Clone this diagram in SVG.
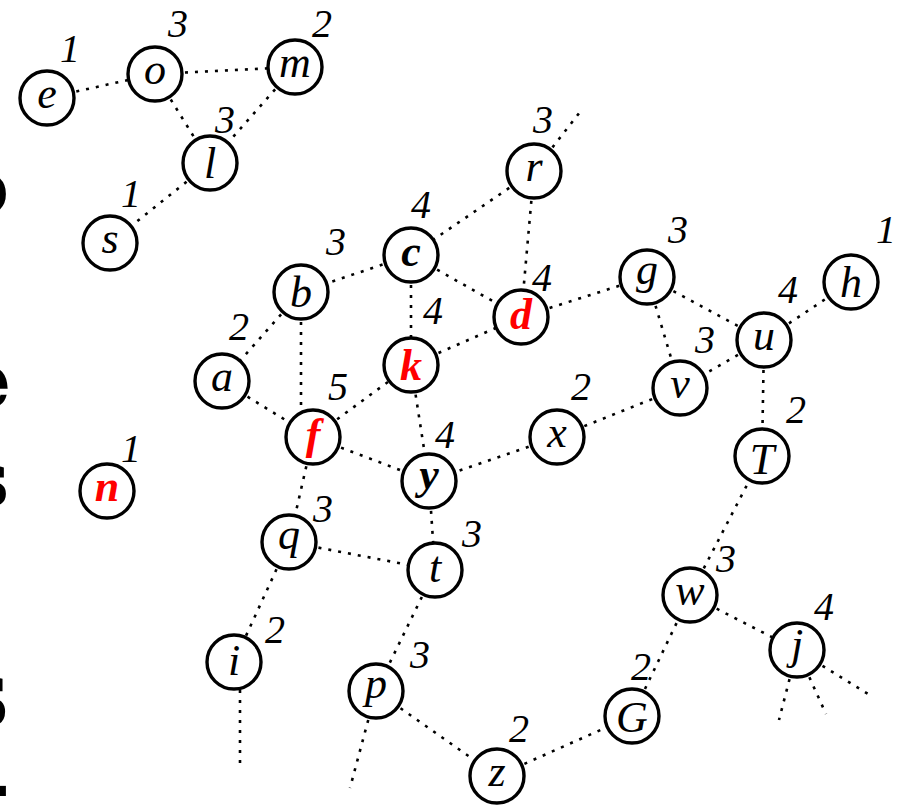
<svg xmlns="http://www.w3.org/2000/svg" width="900" height="807" viewBox="0 0 900 807">
<style>
.bg{fill:#fff}
.e{stroke:#000;stroke-width:2.6;stroke-dasharray:3 7;fill:none}
.nd{fill:#fff;stroke:#000;stroke-width:3.4}
.lb{font-family:'Liberation Serif';font-style:italic;font-size:44px;text-anchor:middle;fill:#000}
.bd{font-weight:bold}
.red{fill:#ff0000}
.dg{font-family:'Liberation Serif';font-style:italic;font-size:40px;fill:#000}
.cut{font-family:'DejaVu Serif';font-weight:bold;font-size:76px;text-anchor:end;fill:#000}
</style>
<rect class="bg" x="0" y="0" width="900" height="807"/>
<g id="cut-text">
<text class="cut" x="9" y="214">o</text>
<text class="cut" x="11" y="407">e</text>
<text class="cut" x="9" y="506">s</text>
<text class="cut" x="9" y="727" style="font-size:96px">s</text>
<text class="cut" x="10" y="812">-</text>
</g>
<g id="connectors">
<line class="e" x1="47" y1="98" x2="155" y2="74"/>
<line class="e" x1="155" y1="74" x2="295" y2="67"/>
<line class="e" x1="155" y1="74" x2="210" y2="163"/>
<line class="e" x1="295" y1="67" x2="210" y2="163"/>
<line class="e" x1="210" y1="163" x2="110" y2="243"/>
<line class="e" x1="534" y1="171" x2="580" y2="112"/>
<line class="e" x1="534" y1="171" x2="411" y2="255"/>
<line class="e" x1="534" y1="171" x2="521" y2="317"/>
<line class="e" x1="411" y1="255" x2="301" y2="292"/>
<line class="e" x1="411" y1="255" x2="521" y2="317"/>
<line class="e" x1="411" y1="255" x2="411" y2="365"/>
<line class="e" x1="301" y1="292" x2="222" y2="381"/>
<line class="e" x1="301" y1="292" x2="301" y2="437"/>
<line class="e" x1="222" y1="381" x2="313" y2="437"/>
<line class="e" x1="313" y1="437" x2="411" y2="365"/>
<line class="e" x1="313" y1="437" x2="429" y2="481"/>
<line class="e" x1="313" y1="437" x2="289" y2="542"/>
<line class="e" x1="411" y1="365" x2="521" y2="317"/>
<line class="e" x1="411" y1="365" x2="429" y2="481"/>
<line class="e" x1="521" y1="317" x2="647" y2="277"/>
<line class="e" x1="647" y1="277" x2="764" y2="340"/>
<line class="e" x1="647" y1="277" x2="680" y2="388"/>
<line class="e" x1="764" y1="340" x2="851" y2="282"/>
<line class="e" x1="764" y1="340" x2="680" y2="388"/>
<line class="e" x1="764" y1="340" x2="762" y2="456"/>
<line class="e" x1="680" y1="388" x2="557" y2="437"/>
<line class="e" x1="557" y1="437" x2="429" y2="481"/>
<line class="e" x1="429" y1="481" x2="435" y2="570"/>
<line class="e" x1="289" y1="542" x2="435" y2="570"/>
<line class="e" x1="289" y1="542" x2="234" y2="662"/>
<line class="e" x1="240" y1="690" x2="240" y2="765"/>
<line class="e" x1="435" y1="570" x2="376" y2="691"/>
<line class="e" x1="376" y1="691" x2="497" y2="776"/>
<line class="e" x1="376" y1="691" x2="350" y2="788"/>
<line class="e" x1="497" y1="776" x2="632" y2="716"/>
<line class="e" x1="632" y1="716" x2="690" y2="595"/>
<line class="e" x1="690" y1="595" x2="762" y2="456"/>
<line class="e" x1="690" y1="595" x2="797" y2="650"/>
<line class="e" x1="797" y1="650" x2="779" y2="720"/>
<line class="e" x1="797" y1="650" x2="826" y2="714"/>
<line class="e" x1="797" y1="650" x2="868" y2="694"/>
</g>
<g id="nodes">
<g id="node-e"><circle class="nd" cx="47" cy="98" r="27"/><text class="lb" x="47" y="108">e</text><text class="dg" x="60" y="62">1</text></g>
<g id="node-o"><circle class="nd" cx="155" cy="74" r="27"/><text class="lb" x="155" y="84">o</text><text class="dg" x="168" y="37">3</text></g>
<g id="node-m"><circle class="nd" cx="295" cy="67" r="27"/><text class="lb" x="295" y="77">m</text><text class="dg" x="312" y="37">2</text></g>
<g id="node-l"><circle class="nd" cx="210" cy="163" r="27"/><text class="lb" x="210" y="178">l</text><text class="dg" x="215" y="133">3</text></g>
<g id="node-s"><circle class="nd" cx="110" cy="243" r="27"/><text class="lb" x="110" y="253">s</text><text class="dg" x="121" y="207">1</text></g>
<g id="node-r"><circle class="nd" cx="534" cy="171" r="27"/><text class="lb" x="534" y="181">r</text><text class="dg" x="533" y="133">3</text></g>
<g id="node-c"><circle class="nd" cx="411" cy="255" r="27"/><text class="lb bd" x="411" y="266">c</text><text class="dg" x="411" y="218">4</text></g>
<g id="node-d"><circle class="nd" cx="521" cy="317" r="27"/><text class="lb bd red" x="521" y="329">d</text><text class="dg" x="532" y="291">4</text></g>
<g id="node-g"><circle class="nd" cx="647" cy="277" r="27"/><text class="lb" x="647" y="284">g</text><text class="dg" x="668" y="243">3</text></g>
<g id="node-h"><circle class="nd" cx="851" cy="282" r="27"/><text class="lb" x="851" y="297">h</text><text class="dg" x="876" y="243">1</text></g>
<g id="node-b"><circle class="nd" cx="301" cy="292" r="27"/><text class="lb" x="301" y="307">b</text><text class="dg" x="326" y="255">3</text></g>
<g id="node-u"><circle class="nd" cx="764" cy="340" r="27"/><text class="lb" x="764" y="350">u</text><text class="dg" x="778" y="303">4</text></g>
<g id="node-a"><circle class="nd" cx="222" cy="381" r="27"/><text class="lb" x="222" y="391">a</text><text class="dg" x="229" y="340">2</text></g>
<g id="node-k"><circle class="nd" cx="411" cy="365" r="27"/><text class="lb bd red" x="411" y="380">k</text><text class="dg" x="423" y="324">4</text></g>
<g id="node-v"><circle class="nd" cx="680" cy="388" r="27"/><text class="lb" x="680" y="398">v</text><text class="dg" x="695" y="353">3</text></g>
<g id="node-f"><circle class="nd" cx="313" cy="437" r="27"/><text class="lb bd red" x="313" y="449">f</text><text class="dg" x="328" y="400">5</text></g>
<g id="node-x"><circle class="nd" cx="557" cy="437" r="27"/><text class="lb" x="557" y="447">x</text><text class="dg" x="571" y="400">2</text></g>
<g id="node-T"><circle class="nd" cx="762" cy="456" r="27"/><text class="lb" x="762" y="474">T</text><text class="dg" x="786" y="423">2</text></g>
<g id="node-y"><circle class="nd" cx="429" cy="481" r="27"/><text class="lb bd" x="429" y="489">y</text><text class="dg" x="435" y="448">4</text></g>
<g id="node-n"><circle class="nd" cx="107" cy="491" r="27"/><text class="lb bd red" x="107" y="501">n</text><text class="dg" x="121" y="462">1</text></g>
<g id="node-q"><circle class="nd" cx="289" cy="542" r="27"/><text class="lb" x="289" y="549">q</text><text class="dg" x="313" y="522">3</text></g>
<g id="node-t"><circle class="nd" cx="435" cy="570" r="27"/><text class="lb" x="435" y="582">t</text><text class="dg" x="462" y="547">3</text></g>
<g id="node-w"><circle class="nd" cx="690" cy="595" r="27"/><text class="lb" x="690" y="605">w</text><text class="dg" x="716" y="572">3</text></g>
<g id="node-j"><circle class="nd" cx="797" cy="650" r="27"/><text class="lb" x="797" y="659">j</text><text class="dg" x="814" y="620">4</text></g>
<g id="node-i"><circle class="nd" cx="234" cy="662" r="27"/><text class="lb" x="234" y="675">i</text><text class="dg" x="265" y="643">2</text></g>
<g id="node-p"><circle class="nd" cx="376" cy="691" r="27"/><text class="lb" x="376" y="698">p</text><text class="dg" x="410" y="668">3</text></g>
<g id="node-G"><circle class="nd" cx="632" cy="716" r="27"/><text class="lb" x="632" y="732">G</text><text class="dg" x="631" y="680">2</text></g>
<g id="node-z"><circle class="nd" cx="497" cy="776" r="27"/><text class="lb" x="497" y="786">z</text><text class="dg" x="509" y="742">2</text></g>
</g>
</svg>
